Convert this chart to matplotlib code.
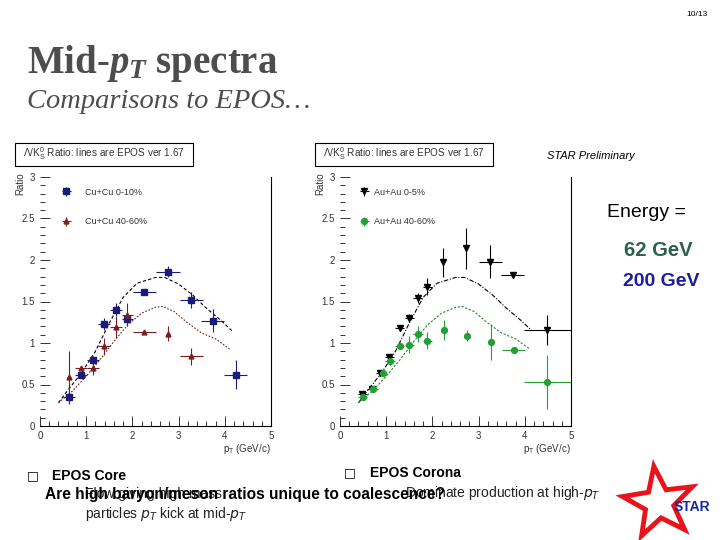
import numpy as np
import matplotlib
matplotlib.use('Agg')
import matplotlib.pyplot as plt
from matplotlib.ticker import MultipleLocator, FormatStrFormatter
from matplotlib.patches import Rectangle, Polygon

plt.rcParams['font.family'] = ['Liberation Sans', 'DejaVu Sans']
plt.rcParams['mathtext.fontset'] = 'custom'
plt.rcParams['mathtext.rm'] = 'Liberation Serif:bold'
plt.rcParams['mathtext.it'] = 'Liberation Serif:italic:bold'

# Cu+Cu 0-10% (blue squares)
cu_c_pt = [0.63, 0.89, 1.15, 1.39, 1.65, 1.89, 2.26, 2.77, 3.27, 3.74, 4.24]
cu_c_ratio = [0.35, 0.61, 0.79, 1.23, 1.40, 1.29, 1.61, 1.86, 1.52, 1.27, 0.62]
cu_c_xerr = [0.125, 0.125, 0.125, 0.125, 0.125, 0.125, 0.25, 0.25, 0.25, 0.25, 0.25]
cu_c_yerr = [0.08, 0.03, 0.05, 0.07, 0.08, 0.08, 0.02, 0.07, 0.10, 0.14, 0.17]

# Cu+Cu 40-60% (red triangles)
cu_p_pt = [0.63, 0.89, 1.15, 1.39, 1.65, 1.89, 2.26, 2.77, 3.27]
cu_p_ratio = [0.59, 0.70, 0.70, 0.96, 1.19, 1.34, 1.13, 1.11, 0.84]
cu_p_xerr = [0.05, 0.125, 0.125, 0.125, 0.125, 0.125, 0.25, 0.05, 0.25]
cu_p_yerr = [0.31, 0.02, 0.08, 0.10, 0.13, 0.14, 0.02, 0.09, 0.10]

# Au+Au 0-5% (black down triangles)
au_c_pt = [0.48, 0.69, 0.87, 1.07, 1.29, 1.50, 1.68, 1.89, 2.24, 2.72, 3.25, 3.74, 4.49]
au_c_ratio = [0.38, 0.44, 0.64, 0.83, 1.18, 1.30, 1.54, 1.68, 1.97, 2.14, 1.98, 1.82, 1.16]
au_c_xerr = [0.1, 0.1, 0.1, 0.1, 0.1, 0.1, 0.1, 0.1, 0.0, 0.0, 0.25, 0.25, 0.5]
au_c_yerr = [0.03, 0.03, 0.02, 0.03, 0.02, 0.05, 0.06, 0.10, 0.18, 0.25, 0.20, 0.02, 0.18]

# Au+Au 40-60% (green circles)
au_p_pt = [0.49, 0.72, 0.92, 1.08, 1.29, 1.50, 1.69, 1.89, 2.25, 2.75, 3.26, 3.76, 4.49]
au_p_ratio = [0.35, 0.44, 0.64, 0.78, 0.96, 0.98, 1.11, 1.03, 1.16, 1.09, 1.01, 0.91, 0.53]
au_p_xerr = [0.1, 0.1, 0.1, 0.1, 0.1, 0.1, 0.1, 0.1, 0.0, 0.0, 0.0, 0.25, 0.5]
au_p_yerr = [0.03, 0.02, 0.02, 0.04, 0.02, 0.10, 0.10, 0.10, 0.12, 0.07, 0.22, 0.02, 0.32]

# EPOS curves
epos_c_pt = [0.4, 0.6, 0.9, 1.2, 1.5, 1.8, 2.1, 2.5, 2.7, 3.0, 3.3, 3.6, 3.9, 4.15]
epos_c_ratio = [0.28, 0.43, 0.64, 0.90, 1.24, 1.55, 1.72, 1.79, 1.79, 1.71, 1.58, 1.42, 1.28, 1.15]
epos_p_pt = [0.4, 0.7, 1.0, 1.3, 1.6, 1.9, 2.2, 2.5, 2.65, 2.9, 3.2, 3.5, 3.8, 4.1]
epos_p_ratio = [0.28, 0.42, 0.60, 0.80, 1.02, 1.22, 1.36, 1.43, 1.44, 1.38, 1.24, 1.12, 1.05, 0.93]

W, H = 720, 540


def fx(x):
    return x / W


def fy(y):
    return 1 - y / H


fig = plt.figure(figsize=(7.2, 5.4), dpi=100)

# header
fig.text(fx(697), fy(15), '10/13', fontsize=6, ha='center', va='center')
fig.text(fx(27), fy(63), 'Mid-$p_T$ spectra', fontsize=28, family='Liberation Serif',
         weight='bold', color='#4d4d4d', ha='left', va='center')
fig.text(fx(27), fy(101), 'Comparisons to EPOS\u2026', fontsize=20.5, family='Liberation Serif',
         style='italic', color='#4d4d4d', ha='left', va='center')


def panel(left_px, title_x0):
    ax = fig.add_axes([fx(left_px), fy(426), 231 / W, 249 / H])
    ax.set_xlim(0, 5)
    ax.set_ylim(0, 3)
    ax.spines['top'].set_visible(False)
    ax.spines['left'].set_visible(False)
    ax.spines['right'].set_linewidth(0.8)
    ax.spines['bottom'].set_linewidth(0.8)
    ax.xaxis.set_major_locator(MultipleLocator(1))
    ax.xaxis.set_minor_locator(MultipleLocator(0.2))
    ax.yaxis.set_major_locator(MultipleLocator(0.5))
    ax.yaxis.set_minor_locator(MultipleLocator(0.1))
    ax.xaxis.set_major_formatter(FormatStrFormatter('%g'))
    ax.yaxis.set_major_formatter(FormatStrFormatter('%g'))
    ax.tick_params(which='both', direction='in', labelsize=7, colors='#333333', width=0.7)
    ax.tick_params(which='major', length=7)
    ax.tick_params(which='minor', length=3.5)
    ax.set_xlabel('p$_\\mathregular{T}$ (GeV/c)', fontsize=7, loc='right', color='#333333',
                  labelpad=1, math_fontfamily='dejavusans')
    ax.set_ylabel('Ratio', fontsize=7, color='#333333', va='top', ha='right')
    ax.yaxis.set_label_coords(-0.105, 1.02)
    fig.patches.append(Rectangle((fx(title_x0), fy(166)), 178 / W, 23 / H, transform=fig.transFigure,
                                 fill=False, edgecolor='black', linewidth=0.8))
    fig.text(fx(title_x0 + 89), fy(154), '\u039b/K$_\\mathregular{S}^\\mathregular{0}$ Ratio: lines are EPOS ver 1.67',
             fontsize=7.2, ha='center', va='center', color='#333333', math_fontfamily='dejavusans')
    return ax


ax1 = panel(40, 15)
ax1.plot(epos_c_pt, epos_c_ratio, color='black', lw=0.8, ls=(0, (3, 2)))
ax1.plot(epos_p_pt, epos_p_ratio, color='#7a1f1f', lw=0.8, ls=(0, (1.5, 1.5)))
ax1.errorbar(cu_c_pt, cu_c_ratio, xerr=cu_c_xerr, yerr=cu_c_yerr, fmt='s', color='#1c1c78',
             ms=4.5, elinewidth=0.8, capsize=0, label='Cu+Cu 0-10%')
ax1.errorbar(cu_p_pt, cu_p_ratio, xerr=cu_p_xerr, yerr=cu_p_yerr, fmt='^', color='#7a1f1f',
             ms=3.5, elinewidth=0.8, capsize=0, label='Cu+Cu 40-60%')
ax1.legend(loc='upper left', bbox_to_anchor=(0.06, 0.99), frameon=False, fontsize=6.5,
           labelspacing=2.3, handletextpad=1.5, handlelength=1.0, labelcolor='#333333')

ax2 = panel(340, 315)
ax2.plot(epos_c_pt, epos_c_ratio, color='black', lw=0.8, ls=(0, (4, 1.5, 1, 1.5)))
ax2.plot(epos_p_pt, epos_p_ratio, color='#238a2e', lw=0.8, ls=(0, (2, 1.5)))
ax2.errorbar(au_c_pt, au_c_ratio, xerr=au_c_xerr, yerr=au_c_yerr, fmt='v', color='black',
             ms=4.2, elinewidth=0.8, capsize=0, label='Au+Au 0-5%')
ax2.errorbar(au_p_pt, au_p_ratio, xerr=au_p_xerr, yerr=au_p_yerr, fmt='o', color='#22a033',
             ms=4.2, elinewidth=0.8, capsize=0, label='Au+Au 40-60%')
ax2.legend(loc='upper left', bbox_to_anchor=(0.05, 0.99), frameon=False, fontsize=6.5,
           labelspacing=2.3, handletextpad=0.6, handlelength=1.0, labelcolor='#333333')

fig.text(fx(547), fy(156), 'STAR Preliminary', fontsize=8, style='italic', ha='left', va='center')
fig.text(fx(607), fy(213), 'Energy =', fontsize=14, ha='left', va='center')
fig.text(fx(624), fy(251), '62 GeV', fontsize=14.5, weight='bold', color='#2d5f4f', ha='left', va='center')
fig.text(fx(623), fy(281), '200 GeV', fontsize=14, weight='bold', color='#1c1ca0', ha='left', va='center')

# bottom text
fig.text(fx(33), fy(476), '\u25a1', fontsize=9, family='DejaVu Sans', ha='center', va='center')
fig.text(fx(52), fy(476), 'EPOS Core', fontsize=10, weight='bold', ha='left', va='center')
fig.text(fx(350), fy(473), '\u25a1', fontsize=9, family='DejaVu Sans', ha='center', va='center')
fig.text(fx(370), fy(473), 'EPOS Corona', fontsize=10, weight='bold', ha='left', va='center')
fig.text(fx(85), fy(494), 'Flow giving high mass', fontsize=10, ha='left', va='center', color='#222222')
fig.text(fx(85), fy(514), 'particles $p_T$ kick at mid-$p_T$', fontsize=10, ha='left', va='center',
         color='#222222', math_fontfamily='dejavusans')
fig.text(fx(405), fy(493), 'Dominate production at high-$p_T$', fontsize=10, ha='left', va='center',
         color='#222222', math_fontfamily='dejavusans')
fig.text(fx(45), fy(495), 'Are high baryon/meson ratios unique to coalescence?', fontsize=11.2,
         weight='bold', ha='left', va='center')

# STAR logo
cx, cy, R, r = 659, 503, 37, 15
ang = np.deg2rad(np.arange(10) * 36 + 90 + 8)
rad = np.where(np.arange(10) % 2 == 0, R, r)
star_xy = np.column_stack([fx(cx + rad * np.cos(ang)), fy(cy - rad * np.sin(ang))])
fig.patches.append(Polygon(star_xy, closed=True, transform=fig.transFigure, facecolor='white',
                           edgecolor='#e8141b', linewidth=3.5, joinstyle='miter'))
fig.text(fx(692), fy(507), 'STAR', fontsize=10, weight='bold', color='#1c2aa0', ha='center', va='center')

fig.savefig('out.png', dpi=100)
